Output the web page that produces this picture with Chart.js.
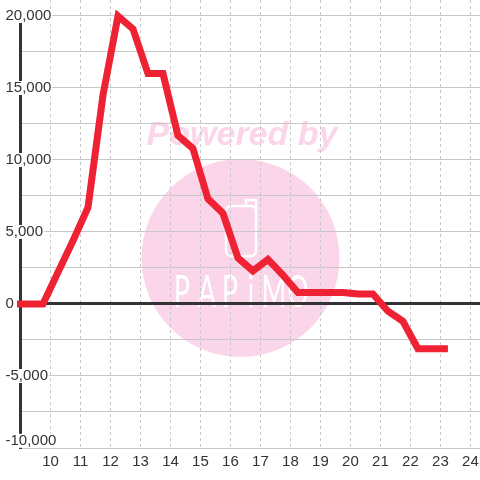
<!DOCTYPE html>
<html>
<head>
<meta charset="utf-8">
<script src="https://cdn.jsdelivr.net/npm/chart.js@4/dist/chart.umd.min.js"></script>
<style>
  html, body { margin: 0; padding: 0; background: #fff; }
  #wrap { width: 480px; height: 480px; }
</style>
</head>
<body>
<div id="wrap"><canvas id="chart"></canvas></div>
<script>
// values
const hours = [8.75, 9.25, 9.75, 10.25, 10.75, 11.25, 11.75, 12.25, 12.75, 13.25, 13.75,
  14.25, 14.75, 15.25, 15.75, 16.25, 16.75, 17.25, 17.75, 18.25, 18.75, 19.25, 19.75,
  20.25, 20.75, 21.25, 21.75, 22.25, 22.75, 23.25];
const values = [0, 0, 0, 2200, 4400, 6700, 14500, 20000, 19100, 16000, 16000,
  11700, 10800, 7300, 6300, 3200, 2300, 3100, 2000, 800, 800, 800, 800,
  700, 700, -500, -1200, -3100, -3100, -3100];
const xTicks = [10, 11, 12, 13, 14, 15, 16, 17, 18, 19, 20, 21, 22, 23, 24];
const yTicks = [-10000, -7500, -5000, -2500, 0, 2500, 5000, 7500, 10000, 12500, 15000, 17500, 20000];
// the bottom label is drawn a little above its own line in the reference
const bottomLabelAt = -9500;

const font = { family: "'Liberation Sans', Arial, sans-serif", size: 15 };

// pink "Powered by" watermark behind the grid
const watermark = {
  id: 'watermark',
  beforeDraw(chart) {
    const ctx = chart.ctx;
    ctx.save();
    ctx.fillStyle = '#fbd5ea';
    ctx.beginPath();
    ctx.arc(240.5, 258, 99, 0, Math.PI * 2);
    ctx.fill();

    ctx.font = "italic bold 34px 'Liberation Sans', Arial, sans-serif";
    ctx.textAlign = 'center';
    ctx.textBaseline = 'middle';
    ctx.fillText('Powered by', 242, 136);

    // phone-ish logo
    ctx.strokeStyle = '#fff';
    ctx.lineWidth = 2.5;
    ctx.beginPath();
    ctx.roundRect(226, 206, 30, 50, 5);
    ctx.stroke();
    ctx.beginPath();
    ctx.moveTo(246, 206);
    ctx.lineTo(246, 200);
    ctx.lineTo(256, 200);
    ctx.lineTo(256, 212);
    ctx.stroke();

    ctx.fillStyle = '#fff';
    ctx.font = "44px Lato, 'DejaVu Sans', sans-serif";
    ctx.textBaseline = 'alphabetic';
    const letters = ['P', 'A', 'P', 'i', 'M', 'O'];
    const cx = [182, 207, 230, 251, 274, 298];
    letters.forEach((c, i) => {
      ctx.save();
      ctx.translate(cx[i], 307);
      ctx.scale(0.6, 1);
      ctx.fillText(c, 0, 0);
      ctx.restore();
    });
    ctx.restore();
  },
  // the axis bar starts just under the top label
  beforeDatasetsDraw(chart) {
    const ctx = chart.ctx;
    ctx.save();
    ctx.fillStyle = '#fff';
    ctx.fillRect(18, 0, 6, 9);
    ctx.restore();
  }
};

const isZero = c => c.tick && c.tick.value === 0;
const isNudge = c => c.tick && c.tick.value === bottomLabelAt;

new Chart(document.getElementById('chart'), {
  type: 'line',
  data: {
    datasets: [{
      data: hours.map((h, i) => ({ x: h, y: values[i] })),
      borderColor: '#ee2233',
      borderWidth: 7,
      pointRadius: 0,
      tension: 0,
      fill: false,
      clip: { left: 3.5, top: 5, right: 0, bottom: 0 }
    }]
  },
  options: {
    responsive: true,
    maintainAspectRatio: false,
    animation: false,
    layout: { padding: 0 },
    plugins: { legend: { display: false }, tooltip: { enabled: false } },
    scales: {
      x: {
        type: 'linear',
        min: 9,
        max: 24.32,
        afterBuildTicks: s => { s.ticks = xTicks.map(v => ({ value: v })); },
        afterFit: s => {
          s.height = 32;
          s.paddingLeft = 0; s.paddingRight = 0; s.paddingTop = 0; s.paddingBottom = 0;
        },
        grid: { color: '#c8c8c8', lineWidth: 1, drawTicks: false },
        border: { display: false, dash: [3, 3] },
        ticks: { font: font, color: '#333', padding: 5, maxRotation: 0 }
      },
      y: {
        type: 'linear',
        min: -10000,
        max: 21111,
        afterBuildTicks: s => {
          s.ticks = yTicks.map(v => ({ value: v }));
          s.ticks.splice(1, 0, { value: bottomLabelAt });
        },
        afterFit: s => {
          s.width = 20.5;
          s.paddingLeft = 0; s.paddingRight = 0; s.paddingTop = 0; s.paddingBottom = 0;
        },
        grid: {
          drawTicks: false,
          color: c => isNudge(c) ? 'rgba(0,0,0,0)' : (isZero(c) ? '#333' : '#c8c8c8'),
          lineWidth: c => isZero(c) ? 3 : 1
        },
        border: { display: true, color: '#333', width: 3 },
        ticks: {
          mirror: true,
          padding: -15,
          font: font,
          color: '#333',
          showLabelBackdrop: c => c.tick && c.tick.value % 5000 === 0 || isNudge(c),
          backdropColor: '#fff',
          backdropPadding: { top: -2, bottom: -2, left: 1, right: 1 },
          callback: v => {
            if (v === bottomLabelAt) return yTicks[0].toLocaleString('en-US');
            if (v === yTicks[0] || v % 5000 !== 0) return '';
            return v.toLocaleString('en-US');
          }
        }
      }
    }
  },
  plugins: [watermark]
});
</script>
</body>
</html>
